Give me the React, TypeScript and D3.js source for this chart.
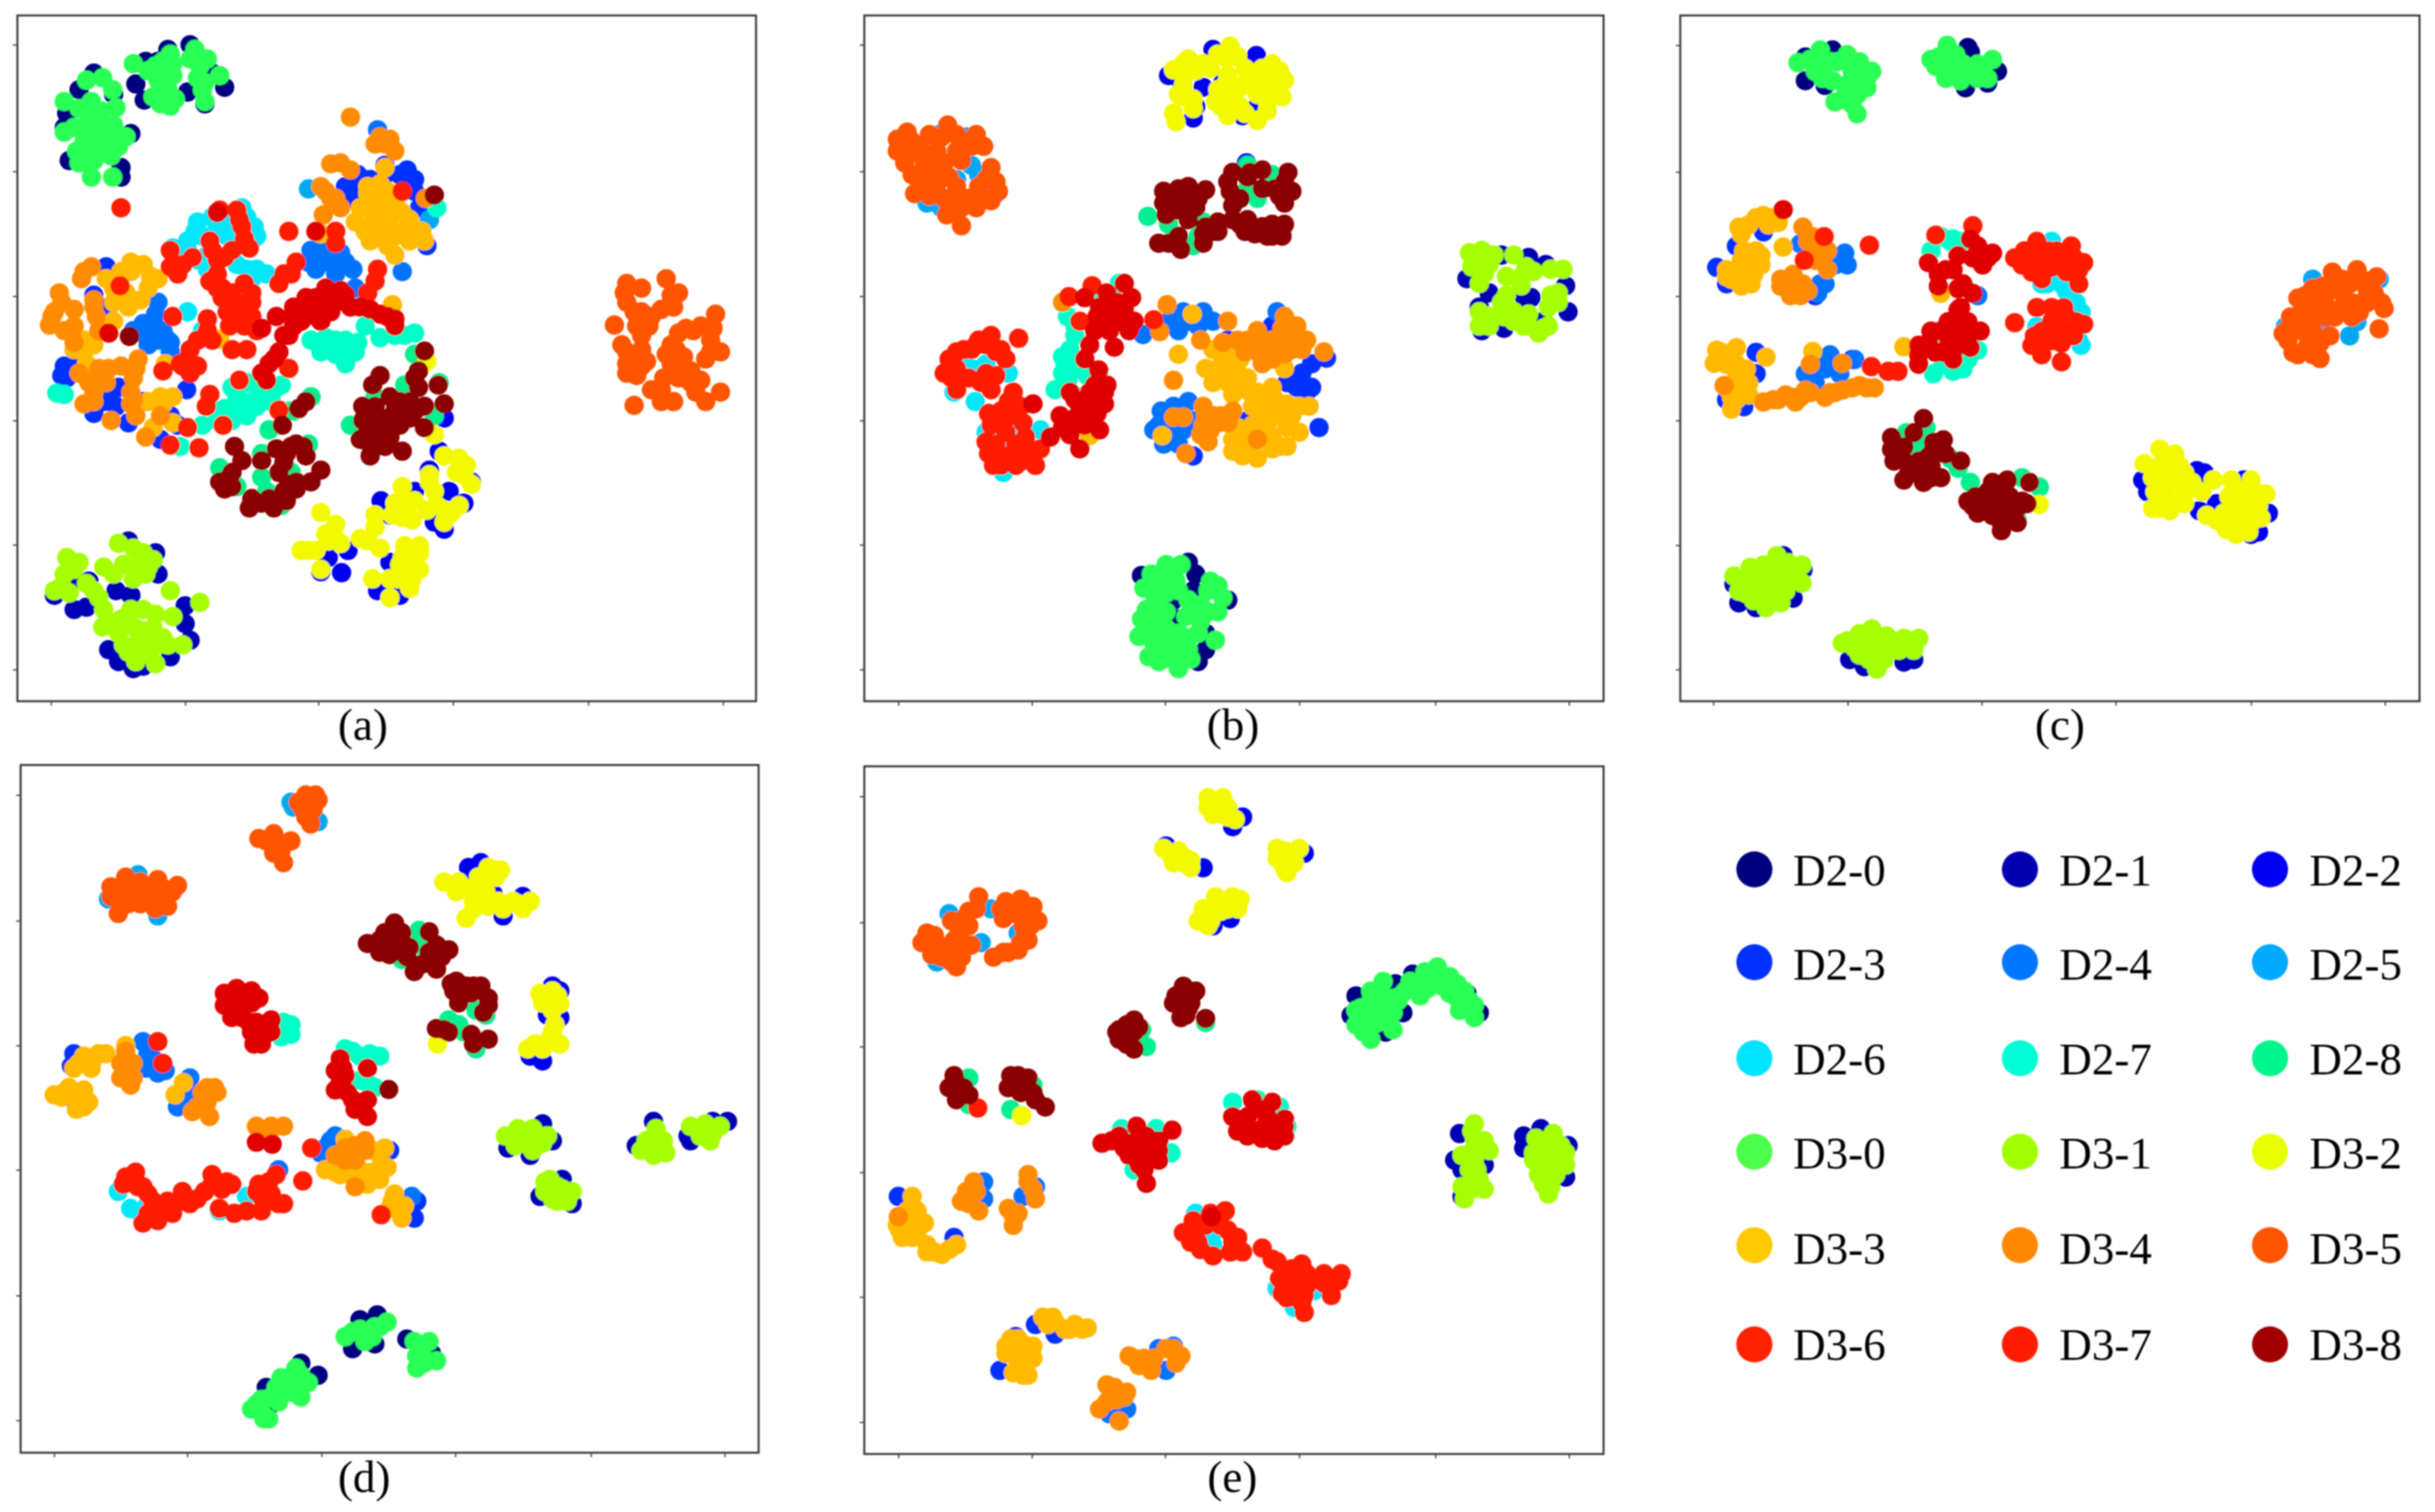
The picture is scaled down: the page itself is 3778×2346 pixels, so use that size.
import React, {useEffect, useRef} from 'react';
import * as d3 from "d3";

// class names, in drawing order
const seriesNames = ["D2-0","D2-1","D2-2","D2-3","D2-4","D2-5","D2-6","D2-7","D2-8","D3-0","D3-1","D3-2","D3-3","D3-4","D3-5","D3-6","D3-7","D3-8"];
const dotColors = ["#000080","#0000b4","#0000f0","#0033ff","#0073ff","#00a8f0","#00e8f8","#00ffc8","#00f090","#2bff55","#a5ff00","#f3f900","#ffba00","#ff8c00","#ff5500","#ff1a00","#e00000","#8b0000"];
const legendColors = ["#00007f","#0000b2","#0000f5","#0033ff","#0077ff","#00a8ff","#00e5ff","#00ffd5","#00f58c","#4cff4c","#a0ff00","#e8ff00","#ffc800","#ff8800","#ff5500","#ff2200","#ff1a00","#a00000"];

// embedding values per class, flat x,y lists
const panelA = [
  [190,155,160,190,135,240,130,270,140,340,245,355,245,375,265,283,340,105,385,95,295,130,275,178,292,212,380,195,415,220,455,185,430,155,320,130,230,200],
  [260,1145,315,1170,320,1215,150,1225,110,1260,180,1230,235,1250,265,1260,150,1290,175,1285,375,1282,385,1355,375,1320,220,1375,240,1400,270,1415,290,1410,345,1390,300,1180],
  [772,1060,790,1090,870,995,955,1020,940,1065,900,1120,880,1105,890,955,692,1212,665,1180,705,1165,790,1190,765,1250,810,1260,650,1210,840,1040,910,1040,900,885],
  [215,565,190,625,220,650,130,775,150,740,135,800,190,875,210,850,240,820,260,895,290,850,345,880,360,900,325,930,378,825,700,395,725,370,750,410,710,420,780,370,825,360,840,405,850,440,870,465,865,520,780,350,125,795,150,770,220,830,235,860,730,395,750,380,810,370,840,380,730,410],
  [630,530,660,540,690,535,640,570,680,565,715,570,815,575,765,275,290,685,310,690,320,640,320,720,340,720,270,700,300,730,345,745,720,610,655,555,700,555,625,555,650,525,680,580,295,710,330,700,315,665,345,725],
  [625,400,870,465],
  [490,440,515,480,520,500,400,470,440,480,410,500,380,510,460,500,420,540,350,525,420,570,480,560,520,570,540,580,510,590,380,660,460,650,410,700,430,460,460,460,500,460,395,490,510,510,380,530,400,550,500,570,470,480],
  [115,832,130,835,630,720,660,730,700,720,740,690,680,750,720,745,700,770,770,715,800,710,840,705,470,820,500,810,525,835,490,855,455,865,500,880,470,890,440,890,410,900,550,850,570,815,630,840,585,870,365,945,885,440,680,720,700,745,725,725,650,745,660,715,820,710,480,840,510,850,535,820,440,870,470,870,555,825,520,860],
  [840,750,820,815,760,840,890,810,710,900,880,880,545,910,530,960,445,990,480,1030,530,1010,590,1000,625,940,570,1070,595,870,630,840,540,1040,600,1020],
  [130,215,175,170,208,165,228,190,185,215,235,228,180,250,150,270,200,270,230,265,255,290,170,300,210,310,160,345,190,340,185,375,228,375,225,330,190,285,240,285,270,135,300,150,330,130,345,115,320,170,350,160,395,105,420,125,400,165,445,160,410,190,415,215,325,220,310,205,355,210,340,190,160,230,205,235,130,280,170,270,215,290,155,320,190,320,240,310,315,140,350,135,330,150,385,125,405,140,415,175,330,195,345,225],
  [240,1150,270,1160,135,1180,160,1190,290,1170,210,1200,250,1195,310,1185,130,1215,175,1235,110,1250,140,1255,200,1265,210,1290,295,1215,270,1225,345,1250,405,1275,350,1305,208,1327,290,1290,260,1310,315,1300,240,1340,290,1335,330,1350,370,1365,260,1380,300,1385,315,1405,280,1360,150,1205,125,1240,190,1250,230,1215,280,1195,300,1200,285,1180,245,1310,265,1290,275,1330,310,1330,250,1365,300,1360,340,1365,275,1400,230,1320,320,1365],
  [650,1085,680,1110,660,1130,610,1165,640,1165,690,1150,650,1205,760,1090,745,1145,770,1160,815,1030,800,1065,835,1100,870,1005,880,1040,900,1080,930,1070,900,1105,945,985,955,1025,900,965,925,1000,820,1155,850,1170,850,1205,810,1195,755,1225,790,1265,830,1245,865,1080,840,1060,790,1225,880,920,865,765,665,1145,680,1140,625,1165,730,1140,760,1115,795,1090,815,1095,825,1065,885,1070,915,1085,870,1020,930,970,940,1005,815,1180,835,1190,805,1225,835,1225,850,1155],
  [770,390,780,355,745,410,770,420,800,430,730,440,760,450,790,460,830,465,855,490,740,490,770,500,800,500,830,510,860,510,720,470,800,540,650,495,795,645,265,555,290,560,320,590,215,590,245,575,300,610,230,640,260,650,285,635,230,680,170,720,150,740,190,730,445,718,175,770,175,800,300,850,330,855,350,840,310,905,350,895,335,770,755,430,785,405,745,395,780,445,815,450,755,470,790,480,815,490,845,495,750,510,785,520,265,575,230,610,255,620,305,585,170,745,325,840],
  [710,248,790,295,760,305,800,320,670,347,710,360,650,395,680,420,690,440,655,455,862,420,185,565,165,590,120,620,110,660,100,688,150,655,190,635,195,670,145,705,150,725,200,700,220,780,200,800,160,790,190,830,170,855,280,760,270,800,265,830,225,890,265,855,295,925,325,880,275,880,245,775,170,575,125,640,780,305,770,290,690,345,660,405,670,420,200,780,215,810,180,810,190,850,275,780,150,690,190,650,130,700,105,670,270,845],
  [1270,600,1300,610,1350,590,1375,620,1270,640,1300,660,1340,655,1365,650,1245,688,1290,690,1270,745,1300,740,1310,765,1270,790,1450,665,1420,690,1390,695,1360,730,1440,720,1460,745,1385,755,1360,770,1400,785,1430,760,1290,795,1320,825,1340,850,1285,858,1365,850,1410,830,1430,850,1460,830,1375,800,1350,750,1265,620,1285,660,1320,670,1360,625,1300,710,1270,770,1300,775,1260,730,1295,760,1375,705,1405,700,1445,695,1440,745,1370,740,1370,780,1400,810,1340,825,1345,800,1420,805,1315,690],
  [245,440,445,445,480,445,490,480,505,525,345,530,390,545,360,580,345,565,425,510,440,550,470,530,425,595,585,490,495,600,600,555,565,600,450,610,450,630,480,640,510,640,510,670,520,700,465,690,350,670,420,675,400,720,430,720,380,760,385,790,470,740,500,740,243,605,815,405,680,490,680,515,765,570,760,595,745,620,330,785,485,805,425,835,418,860,565,868,452,900,380,905,345,942,403,948,585,780,365,770,485,465,495,505,430,530,455,545,370,560,440,580,460,660,490,660,495,690,420,700,385,740,370,775,400,775,440,610,470,620,510,620,575,580,590,580],
  [595,690,575,710,595,650,620,630,660,610,690,615,640,650,670,660,700,640,730,650,770,665,800,675,800,690,560,670,610,680,650,680,530,695,565,745,545,770,530,790,220,705,540,805,440,450,640,490,590,670,640,630,620,670,670,630,710,650,750,655,785,670,675,640,700,625,585,710,555,760],
  [860,743,848,785,848,820,888,815,770,795,755,815,790,840,735,860,830,850,860,860,900,855,735,890,765,880,800,870,830,885,860,905,730,930,760,915,790,925,815,955,750,965,780,945,572,900,475,945,490,975,530,975,560,950,600,940,620,965,580,960,565,1000,650,995,630,1020,600,1020,460,1015,455,1035,575,1040,545,1055,510,1055,505,1075,555,1075,600,1035,620,850,605,865,262,712,880,413,760,860,780,890,810,850,810,900,840,870,745,905,770,900,745,935,795,895,590,945,615,945,575,980,585,1025,530,1065,580,1060,470,1000,445,1020,470,1030,840,800],
];
const panelB = [
  [710,1190,725,1215,770,1240,790,1270,615,1218,680,1270,690,1310,730,1400,745,1375,745,1340,720,1250],
  [1275,590,1345,540,1400,545,1435,560,1475,605,1480,660,1405,630,1385,620,1300,650,1350,695,1305,700,1320,620,1430,680,1390,650],
  [670,160,760,105,848,118,740,185,780,175,720,250,725,225,820,245,850,225,690,165,828,345],
  [940,790,960,770,990,758,910,810,950,830,930,820,975,905,790,720,800,880,830,890,880,690,900,680,720,965,960,820],
  [618,708,670,680,700,660,740,660,760,680,690,700,730,690,710,680,655,870,640,910,680,860,710,850,660,940,690,940,720,890,700,910,890,660,650,900,665,915,690,880,665,890,690,905,720,680],
  [140,285,205,285,260,290,180,430,210,440,270,350,285,370,240,380,260,420,320,410,190,420],
  [345,790,278,850,235,830,250,770,335,1000,300,915,410,910,350,900,360,950,300,770,270,780,255,780,290,780,350,920,325,935,360,920],
  [455,640,465,670,480,710,570,600,530,640,460,770,440,825,470,790,500,780,530,800,490,840,470,740,480,760,510,800,455,790,465,810,480,690,505,795,490,770,455,755],
  [628,458,670,475,730,500,830,350,850,420,880,370,830,400,710,440,720,520,740,470],
  [635,1215,665,1195,695,1195,620,1245,655,1240,685,1230,640,1280,615,1310,650,1320,755,1230,780,1265,710,1270,735,1280,770,1295,705,1305,735,1315,610,1347,765,1355,640,1360,670,1350,710,1350,630,1390,650,1400,690,1415,715,1395,685,1380,730,1340,650,1215,675,1215,640,1255,665,1255,690,1250,625,1290,665,1295,640,1300,630,1340,665,1330,690,1340,650,1375,680,1360,710,1375,660,1395,750,1250,770,1240,720,1295,750,1295],
  [1280,535,1305,530,1330,540,1285,565,1310,580,1370,540,1395,565,1410,575,1355,585,1385,605,1470,570,1445,570,1445,625,1460,620,1355,625,1345,660,1300,660,1320,670,1300,690,1350,670,1390,690,1420,705,1440,690,1400,665,1295,550,1320,560,1300,600,1385,585,1345,640,1370,680,1400,690,1430,695,1370,660,1320,690,1460,640,1440,650],
  [680,148,710,125,740,135,795,98,770,115,810,120,860,145,880,135,905,170,880,195,900,205,690,200,700,180,720,210,680,240,685,258,720,230,770,190,790,160,830,170,800,210,765,215,790,245,825,240,850,255,870,235,850,200,815,185,700,135,725,150,755,145,790,125,825,145,850,165,875,165,895,150,785,180,860,180,700,160,815,225,775,225,785,205,870,215,700,205],
  [690,750,718,665,657,922,510,922,760,740,790,735,770,780,800,770,760,810,790,810,830,800,800,835,850,830,870,860,840,860,880,820,905,780,955,860,920,880,900,870,935,915,810,905,840,900,800,930,830,950,850,970,880,950,910,945,820,965,870,900,780,755,815,760,745,780,775,795,810,790,815,820,835,830,860,845,885,845,910,855,935,860,855,880,885,880,910,905,825,925,860,925,880,925,895,945,800,955,840,945,850,900],
  [667,645,790,680,735,720,652,702,680,805,455,640,850,700,905,670,930,690,950,720,985,745,780,725,810,720,870,730,900,720,880,760,860,770,920,740,825,745,740,860,740,900,750,935,735,920,775,880,800,870,770,895,680,883,700,883,705,960,850,930,830,720,850,730,890,745,855,750,880,720,900,695,925,715,905,750,940,740,760,880,755,910,745,880,790,895],
  [120,295,140,280,185,285,222,265,240,285,280,285,295,310,135,325,165,310,200,320,240,320,135,345,175,350,210,360,250,340,165,395,155,410,200,390,240,395,220,455,250,478,310,355,320,385,310,425,280,440,250,440,285,395,185,415,230,425,205,340,150,300,210,290,255,300,170,330,215,345,270,310,150,370,180,375,225,375,290,415,265,420,325,405,300,380,215,420,225,450,180,395,120,320],
  [515,605,468,628,490,680,640,677,366,716,310,710,285,720,255,740,225,760,215,790,240,825,265,800,300,790,330,740,340,760,310,825,355,830,330,870,305,875,300,935,340,915,380,925,370,860,320,960,330,985,375,975,400,985,410,950,360,940,280,730,230,800,270,740,300,730,320,745,240,780,225,780,245,800,290,810,320,795,240,745,330,890,350,880,310,900,345,850,375,895,320,940,345,965,390,960,305,960,360,985,315,985],
  [580,600,595,630,545,620,500,630,530,650,560,660,590,700,560,735,520,700,510,730,528,783,500,760,545,815,510,830,540,855,490,860,510,880,530,910,450,880,430,925,470,920,490,950,395,855,470,830,550,700,565,640,570,680,580,655,540,680,525,670,600,680,510,850,525,875,480,885,500,900,455,905,540,830,520,815,480,845,475,905],
  [660,405,690,400,710,395,745,402,660,430,700,430,725,440,665,455,710,465,745,480,770,470,690,500,650,515,695,528,740,515,760,490,800,365,835,365,860,360,912,365,795,405,815,420,860,400,885,400,920,405,905,430,800,465,825,490,860,480,880,500,905,475,900,500,830,465,680,415,720,410,685,445,730,420,770,490,740,495,670,515,790,385,830,375,905,385,895,415,815,475,845,495,880,475,835,480,870,500,800,435],
];
const panelC = [
  [290,120,330,180,290,170,620,100,625,110,615,185,680,150,660,175,345,105],
  [190,1285,155,1275,145,1235,265,1265,285,1205,245,1175,380,1395,410,1410,510,1395,490,1400],
  [975,1015,985,1040,1085,995,1085,1015,1180,1015,1125,1065,1090,1080,1230,1085,1210,1125,1195,1130,1100,1000],
  [205,490,150,520,110,565,130,600,310,625,190,745,190,790,165,860,130,845,385,760],
  [370,535,375,560,315,620,330,600,280,515,390,760,340,750,290,790,330,780,360,790,310,810,640,625,365,550,340,770,310,770,320,600,350,560],
  [1320,590,1455,590,1265,690,1395,710,1330,640,1410,680,1340,680],
  [790,510,780,600,820,615,850,660,760,690,850,730,830,630,810,600,845,720,800,590,830,610,840,660,840,640,770,600,840,700],
  [590,505,545,530,610,510,550,790,590,785,620,760,565,730,640,740,570,770,590,770,610,780,565,500,585,510],
  [495,915,535,905,600,990,585,970,625,1020,730,1010,765,1030,525,940,720,1100,520,960],
  [275,132,320,105,340,130,310,150,345,170,375,115,400,130,425,150,400,165,415,185,395,200,385,220,350,215,395,240,370,180,545,125,578,95,575,130,610,135,575,165,605,170,640,165,670,125,660,165,640,135,300,125,325,125,355,130,325,165,385,150,400,140,395,180,380,200,415,165,365,210,560,120,595,115,590,150,620,150,650,150,610,155,590,130,555,140],
  [145,1218,178,1200,205,1195,232,1175,255,1190,283,1195,283,1233,155,1250,190,1235,230,1225,250,1250,185,1270,210,1285,240,1275,375,1355,400,1340,425,1330,455,1345,490,1350,520,1350,510,1375,480,1375,440,1380,400,1385,435,1415,390,1370,210,1215,170,1225,200,1230,215,1255,170,1255,195,1255,220,1205,250,1210,240,1235,260,1225,395,1360,420,1355,445,1365,470,1360,505,1360,420,1395,450,1395,365,1360],
  [1010,950,1040,960,978,980,1000,990,1035,990,1060,1000,1000,1040,1030,1020,1060,1040,1095,1040,995,1075,1030,1080,1060,1065,1118,1015,1155,1015,1195,1015,1225,1045,1150,1050,1180,1050,1210,1070,1105,1090,1140,1085,1175,1090,1145,1120,1190,1125,1215,1095,765,1067,1020,970,1050,985,995,1010,1020,1000,1020,1050,1050,1020,1040,1060,1010,1075,1075,1020,1165,1035,1195,1040,1160,1075,1190,1075,1160,1100,1125,1100,1215,1045,1195,1105,1165,1130],
  [245,522,175,475,160,495,205,455,235,470,220,460,190,530,130,570,160,550,200,560,140,590,180,600,165,575,490,733,110,740,105,768,150,735,210,755,130,770,170,780,150,800,175,810,150,845,140,865,130,820,305,743,565,620,155,480,190,460,215,475,175,555,130,585,150,575,200,540,185,580,160,605,165,530,120,745,140,760,150,770,160,790,140,840,175,835,165,820,115,755],
  [285,480,295,510,315,530,335,530,335,570,240,605,265,580,285,600,260,625,295,615,365,768,300,770,205,850,235,845,265,840,290,825,330,840,365,825,400,815,430,820,125,815,270,850,350,830,305,500,325,550,240,590,260,600,280,625,310,550,225,845,250,835,280,840,340,830,385,820,415,820,300,830],
  [1290,630,1320,610,1360,575,1410,570,1450,585,1445,620,1395,600,1360,610,1465,652,1455,695,1345,640,1300,650,1275,670,1260,705,1290,690,1320,700,1345,670,1380,650,1420,640,1400,670,1290,750,1335,758,1310,730,1270,720,1355,710,1305,625,1340,605,1380,590,1380,620,1420,590,1430,610,1460,640,1415,660,1430,640,1325,625,1320,665,1300,700,1290,680,1335,725,1280,745,1270,695,1320,750,1365,670,1400,640],
  [555,497,630,477,328,500,420,518,288,550,424,775,458,785,478,785,715,682,735,530,760,510,800,530,830,520,855,555,845,600,715,545,750,575,790,565,820,575,760,650,815,650,855,685,790,680,750,730,790,720,770,750,810,765,820,700,800,700,760,530,785,530,815,540,745,550,770,550,800,550,835,545,845,570,770,590,730,560,775,720,810,725,840,680,820,670,790,650,805,680,770,700,755,710,835,710],
  [640,520,670,535,650,560,540,555,600,540,575,570,560,605,600,610,630,620,605,650,580,680,620,680,645,700,610,720,625,735,580,730,590,760,545,700,520,730,520,770,565,700,245,443,625,505,630,545,660,545,560,580,590,570,610,600,610,680,580,700,600,700,630,700,540,725,555,745,595,735,570,745,520,750,600,655],
  [530,885,510,915,465,925,465,950,490,945,520,975,550,935,570,930,575,960,470,975,500,1000,530,1020,565,1010,605,975,545,985,670,1020,700,1015,745,1020,620,1060,650,1050,680,1045,730,1060,640,1085,670,1090,700,1090,720,1105,688,1122,660,1065,710,1070,485,960,505,985,470,950,490,1015,515,1000,545,1010,550,950,540,965,690,1040,660,1040,630,1070,660,1080,690,1070,720,1075,685,1100,705,1050,635,1050,740,1065],
];
const panelD = [
  [730,1170,765,1160,715,1230,760,1220,825,1210,875,1240,610,1260,645,1285,540,1310,545,1350],
  [1100,765,1030,815,1075,830,1120,800,1325,760,1290,810,1445,760,1475,760,1395,790,1400,800,1095,915,1160,930,1140,880],
  [950,235,975,225,1000,290,1020,335,1060,295,1120,480,1135,490,1135,545,1075,625,1100,635,1110,540,955,240],
  [150,620,145,645,150,715,845,925,840,960,790,820],
  [290,595,300,620,320,660,335,655,385,670,380,700,360,730,680,790,650,825,565,860,835,915,295,650,300,600,310,630,315,650,380,680,375,725,670,800,660,815],
  [595,110,645,140,220,300,320,335,590,100,280,250],
  [240,905,265,940,285,950,445,945,500,915,300,930],
  [575,555,570,585,700,610,750,620,730,625,760,690,745,680,570,560,590,560,590,580,715,615,770,625,745,625,730,675],
  [850,365,815,425,910,550,940,575,965,610,985,540,860,400,965,530,850,390,930,560],
  [700,1205,730,1190,760,1185,785,1175,740,1215,840,1215,870,1215,845,1245,885,1255,845,1270,570,1290,600,1270,625,1300,590,1320,610,1330,530,1335,510,1355,545,1375,565,1340,560,1310,530,1360,715,1195,745,1200,770,1185,755,1205,855,1225,860,1260,855,1235,585,1290,600,1300,610,1285,550,1330,575,1320,520,1345,535,1375],
  [1025,790,1050,775,1080,775,1110,790,1060,805,1100,805,1080,820,1330,775,1310,800,1345,800,1300,820,1350,825,1325,830,1400,770,1430,765,1460,770,1420,790,1440,800,1105,885,1130,895,1160,905,1120,920,1150,925,1105,905,1040,790,1065,785,1095,790,1045,810,1080,795,1325,800,1330,815,1315,820,1420,775,1445,785,1120,900,1140,900,1130,925,1115,880],
  [900,265,930,265,990,235,1005,255,965,275,985,285,945,340,960,320,990,315,1020,320,1050,310,1075,305,1095,495,1120,490,1135,517,1120,530,1120,575,1135,600,1070,610,1100,610,887,600,985,260,1000,240,1015,240,970,255,945,280,960,295,925,285,960,305,1010,305,1040,305,1060,320,1110,510,1100,515,1130,500,1110,595,1085,600,1115,590,1125,560],
  [255,603,170,625,200,620,150,650,185,650,110,705,140,690,170,695,180,720,155,735,372,680,355,705,700,797,660,860,690,870,730,860,770,830,785,855,770,880,745,890,800,910,790,940,815,960,820,935,780,815,160,640,190,630,215,620,130,700,155,710,125,710,170,730,170,640,680,865,710,865,755,865,775,850,755,820,795,925,810,945],
  [245,640,270,640,245,670,270,670,420,690,440,700,400,730,425,750,390,740,420,720,520,770,550,770,575,770,545,785,720,810,700,840,680,830,740,820,720,895,255,615,255,650,265,685,410,700,420,705,415,735,435,690,700,815,720,840,700,825,530,785,740,800],
  [620,85,645,95,615,115,630,145,525,175,555,165,590,180,555,205,575,225,225,275,255,255,285,265,320,260,360,272,240,300,240,330,270,295,300,290,340,315,320,300,555,175,605,100,640,85,635,115,620,130,540,180,575,185,570,200,235,280,250,280,225,295,265,275,300,275,335,280,260,310,285,310,320,285,350,285,315,320,245,315],
  [255,875,275,865,250,890,290,895,310,925,335,945,290,970,320,965,350,950,370,905,400,920,430,870,450,900,470,890,475,950,500,945,530,945,575,930,525,890,560,870,550,910,530,915,614,883,632,815,773,953,320,595,330,640,265,885,280,895,300,910,300,950,340,925,365,925,385,930,430,890,415,905,460,885,520,905,545,885,540,925,565,930,345,940,445,940],
  [455,495,480,485,510,490,455,520,490,520,525,505,470,545,505,555,525,590,550,550,550,575,530,600,690,630,680,655,745,650,680,695,705,700,745,715,720,735,745,750,520,803,552,807,470,500,495,500,510,515,475,520,490,545,510,575,530,570,520,555,515,600,700,665,695,650,715,715,690,680],
  [745,392,800,350,780,370,815,370,770,410,800,400,830,400,870,368,885,395,910,405,875,430,840,450,885,445,920,490,945,480,975,480,990,505,930,515,980,535,885,568,910,575,955,580,990,590,960,600,788,694,790,385,770,385,815,390,790,415,825,420,870,410,895,420,855,435,940,490,955,495,990,520,925,470,915,475,960,480,900,570],
];
const panelE = [
  [1130,475,1050,500,1040,540,1110,575,1145,535,1300,535,1165,455,1275,495],
  [1260,785,1250,840,1265,860,1265,915,1390,790,1425,775,1390,815,1480,810,1475,875,1310,850],
  [820,130,800,150,665,190,740,235,945,205,795,340,760,355],
  [122,915,328,1275,235,1000,440,1200,400,1180,360,1205],
  [295,885,295,920,375,915,400,895,650,1230,680,1225,665,1275,570,1360,550,1365,585,1355],
  [225,330,310,320,365,370,200,430,290,390],
  [725,950,760,990,760,1015,890,1105,925,1145,965,1110,770,970],
  [800,720,850,715,895,730,575,775,645,775,675,825,600,860,910,770],
  [625,605,615,570,745,555,265,670,265,725,395,685,350,735],
  [1105,470,1080,490,1125,505,1060,525,1095,530,1135,510,1060,560,1095,555,1125,570,1080,590,1190,450,1215,440,1240,460,1180,500,1210,470,1240,495,1270,490,1290,520,1260,530,1290,545,1050,530,1160,470,1090,505,1105,500,1075,545,1085,560,1110,545,1125,535,1050,560,1120,520,1080,510,1065,575,1190,475,1220,465,1225,480,1195,485,1255,475,1260,510,1280,510,1250,500,1150,490,1140,500],
  [1290,765,1290,795,1320,820,1265,830,1290,840,1290,880,1310,900,1270,920,1265,895,1415,795,1450,785,1475,825,1410,840,1450,830,1475,850,1420,870,1455,870,1440,910,1435,800,1430,890,1285,780,1310,800,1290,815,1280,860,1295,860,1285,900,1300,880,1420,815,1440,815,1465,810,1435,850,1410,825,1450,855,1440,885,1465,835,1445,895],
  [750,90,780,90,750,110,780,125,805,135,660,195,690,200,680,225,715,235,705,215,890,195,935,195,900,225,910,245,925,225,765,295,800,295,740,320,775,325,730,345,750,355,815,300,790,310,372,748,765,100,790,110,760,125,790,130,675,210,700,225,715,220,905,200,915,215,890,215,905,235,770,310,755,330,800,315,780,305,755,345,740,340,790,320,810,320],
  [150,915,160,945,120,975,150,975,175,970,130,1000,180,1030,210,1035,240,1015,415,1165,440,1175,480,1180,505,1187,460,1190,350,1210,385,1225,340,1240,370,1250,395,1250,355,1280,385,1285,140,945,130,960,150,1000,125,985,160,990,140,985,195,1030,225,1025,180,1015,365,1210,375,1240,355,1240,395,1225,365,1265,375,1285,340,1225,425,1180,470,1190,495,1190,435,1165],
  [122,957,275,885,250,925,285,945,270,910,385,885,400,920,345,940,355,975,365,950,590,1245,620,1250,635,1275,665,1230,695,1245,545,1305,580,1330,555,1330,530,1355,570,1380,280,905,260,905,265,930,385,870,395,900,355,955,600,1250,610,1265,640,1250,680,1230,685,1260,560,1310,565,1335,545,1340,585,1320],
  [285,295,265,325,230,345,265,355,340,305,370,300,395,315,405,345,335,340,360,330,385,385,345,410,315,420,180,370,170,390,205,395,190,415,230,430,250,420,270,395,375,355,235,385,245,370,280,320,255,340,355,315,385,330,390,355,370,390,330,320,335,410,365,405,380,370,195,375,215,400,220,420,250,400,240,405,175,385,240,440,210,420],
  [720,965,755,950,785,945,700,990,730,1010,760,1038,790,985,810,1000,820,1030,795,1030,860,1022,890,1050,940,1055,1015,1090,985,1075,895,1085,930,1085,965,1085,1000,1120,910,1125,945,1155,945,1120,283,732,745,975,765,960,775,975,720,985,715,1010,800,1010,810,1020,735,1025,905,1100,930,1105,950,1100,985,1095,1020,1075,940,1135,880,1045,920,1065,950,1075,995,1090,920,1085,900,1115,905,1070],
  [840,715,880,720,800,750,830,750,870,750,905,755,905,790,810,780,850,780,885,800,605,770,535,805,570,790,610,800,650,800,677,778,590,830,625,830,650,840,620,860,625,888,757,957,855,735,815,765,835,775,865,770,890,780,905,770,830,790,860,795,595,805,630,815,610,830,580,815,640,815,610,850,555,800,650,820,625,790],
  [700,480,720,495,680,515,710,525,745,547,695,545,570,570,600,550,600,575,570,590,600,610,235,665,225,690,255,690,240,715,265,705,365,665,345,690,385,670,370,700,400,715,420,730,695,495,715,515,685,500,725,490,705,540,585,560,585,580,585,600,565,575,610,565,240,680,240,700,255,705,365,685,385,690,355,680,395,700,350,665,375,680],
];

// x and y tick values for each panel, no labels are shown
const xTicksAB = [122,393,663,935,1211,1482];
const panelTicks = [
  {x:[103,375,645,918,1192,1465], y:[95,363,627,890,1153,1417]},
  {x:xTicksAB, y:[95,363,627,890,1153,1417]},
  {x:[103,376,648,920,1195,1467], y:[95,363,626,889,1153,1416]},
  {x:[110,380,652,923,1198,1469], y:[85,345,603,860,1120,1378]},
  {x:xTicksAB, y:[87,348,605,865,1123,1382]},
];

const panels = [
  {name:"(a)", values:panelA, dx:[35,1532], dy:[33,1484], left:27, top:24, w:1146, h:1064, labelX:563, labelY:1148},
  {name:"(b)", values:panelB, dx:[53,1552], dy:[33,1484], left:1341, top:24, w:1147, h:1064, labelX:1913, labelY:1148},
  {name:"(c)", values:panelC, dx:[36,1537], dy:[32,1483], left:2607, top:24, w:1147, h:1064, labelX:3196, labelY:1148},
  {name:"(d)", values:panelD, dx:[42,1538], dy:[23,1445], left:32, top:1187, w:1145, h:1067, labelX:565, labelY:2315},
  {name:"(e)", values:panelE, dx:[53,1552], dy:[25,1448], left:1341, top:1189, w:1147, h:1067, labelX:1912, labelY:2315},
];

const legendX = [2722, 3134, 3522];
const legendY = [1349, 1493, 1642, 1787, 1932, 2086];
const legendBase = [1374, 1520, 1667, 1813, 1961, 2110];
const legendTextX = [2782, 3195, 3583];

function App(){
    const ref = useRef<SVGSVGElement | null>(null)

    useEffect(() =>{
        d3.select(ref.current).selectAll("svg > *").remove()
        draw()
    }, [])

    function draw(){
        const svg = d3.select(ref.current)
        svg.append("rect").attr("width",3778).attr("height",2346).attr("fill","#fff")

        // the source is a slightly soft raster
        svg.append("filter").attr("id","soft")
        .attr("filterUnits","userSpaceOnUse")
        .attr("x",0).attr("y",0).attr("width",3778).attr("height",2346)
        .append("feGaussianBlur").attr("stdDeviation",1.2)
        const root = svg.append("g").attr("filter","url(#soft)")

        panels.forEach((p,pi) => {
            const g = root.append("g").attr("transform",`translate(${p.left},${p.top})`)
            const x = d3.scaleLinear().domain(p.dx).range([0,p.w])
            const y = d3.scaleLinear().domain(p.dy).range([0,p.h])

            // Dots, later classes on top
            p.values.forEach((flat,si) => {
                const pts = d3.range(0,flat.length,2).map(i => [flat[i],flat[i+1]])
                g.append("g").selectAll("circle")
                .data(pts)
                .enter()
                .append("circle")
                .attr("cx",d => x(d[0]))
                .attr("cy",d => y(d[1]))
                .attr("r",15)
                .attr("fill",dotColors[si])
            })

            // Frame and unlabelled ticks
            g.append("rect")
            .attr("width",p.w)
            .attr("height",p.h)
            .attr("fill","none")
            .attr("stroke","#333")
            .attr("stroke-width",3)

            const xAxis = g.append("g")
            .attr("transform",`translate(0,${p.h})`)
            .call(d3.axisBottom(x).tickValues(panelTicks[pi].x).tickSize(7).tickSizeOuter(0).tickFormat(() => ""))
            const yAxis = g.append("g")
            .call(d3.axisLeft(y).tickValues(panelTicks[pi].y).tickSize(7).tickSizeOuter(0).tickFormat(() => ""))
            xAxis.select(".domain").remove()
            yAxis.select(".domain").remove()
            g.selectAll(".tick line").attr("stroke","#444").attr("stroke-width",2)

            root.append("text")
            .attr("x",p.labelX)
            .attr("y",p.labelY)
            .attr("text-anchor","middle")
            .style("font-family","'Liberation Serif', serif")
            .style("font-size","70px")
            .text(p.name)
        })

        // Legend, three columns by six rows
        seriesNames.forEach((name,i) => {
            const col = i % 3
            const row = Math.floor(i / 3)
            root.append("circle")
            .attr("cx",legendX[col])
            .attr("cy",legendY[row])
            .attr("r",28)
            .attr("fill",legendColors[i])
            root.append("text")
            .attr("x",legendTextX[col])
            .attr("y",legendBase[row])
            .style("font-family","'Liberation Serif', serif")
            .style("font-size","70px")
            .text(name)
        })
    }

    return(
        <svg ref={ref} width={3778} height={2346} style={{position:"absolute",left:0,top:0}}></svg>
    )
}

export default App;
